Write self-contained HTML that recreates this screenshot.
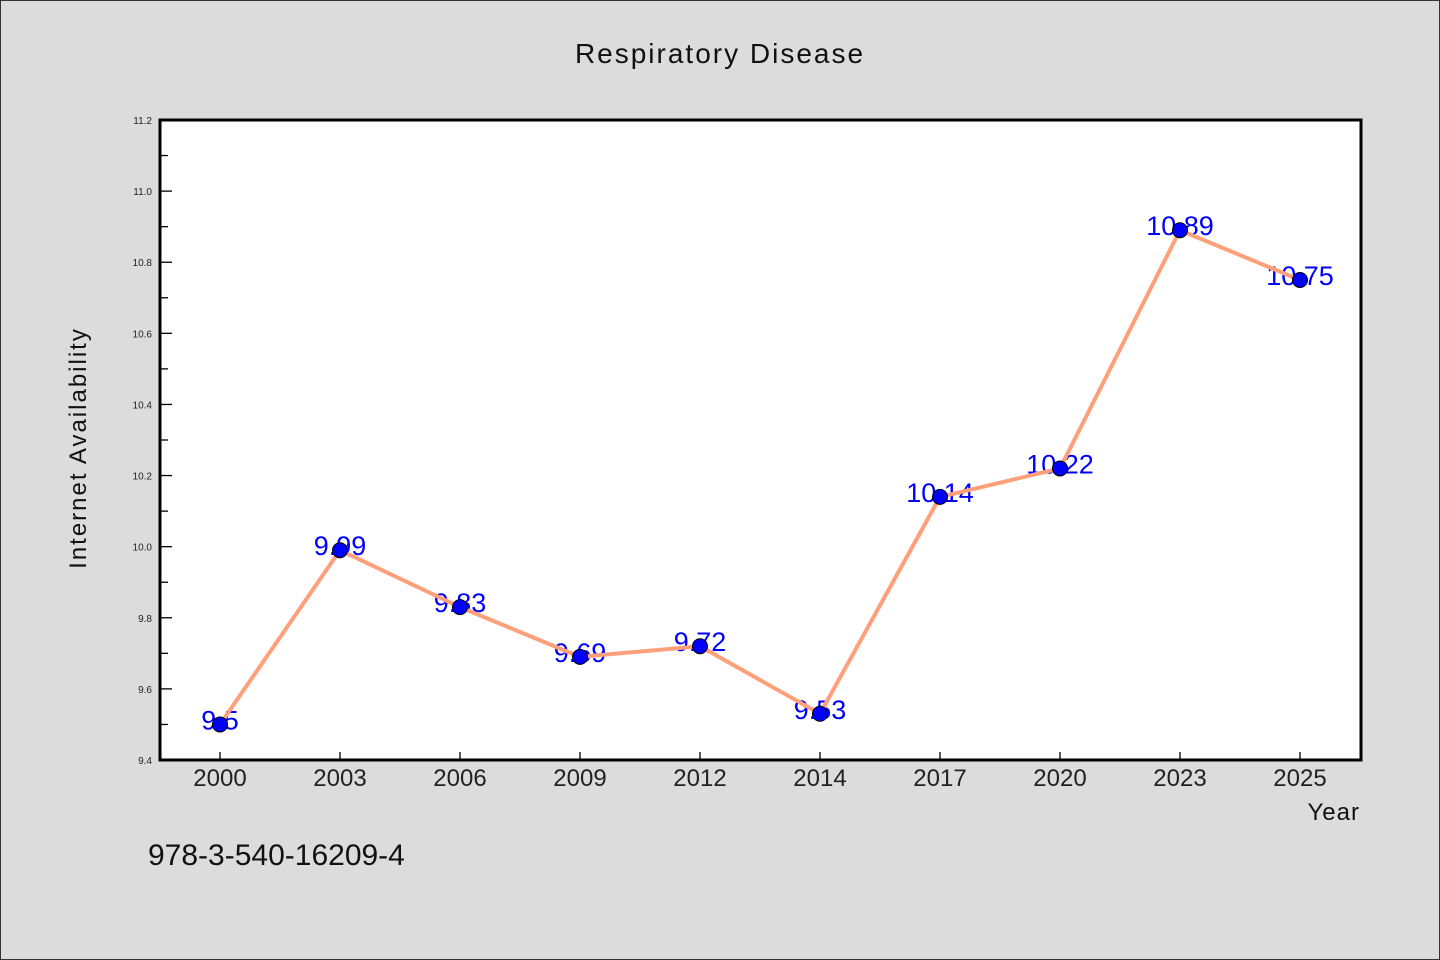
<!DOCTYPE html>
<html><head><meta charset="utf-8"><style>
body{margin:0;background:#dcdcdc;}
svg{display:block;font-family:"WenQuanYi Zen Hei","Liberation Sans",sans-serif;}
</style></head><body>
<svg id="c" width="1440" height="960">
<rect x="0.5" y="0.5" width="1439" height="959" fill="#dcdcdc" stroke="#333"/>
<text x="720" y="63" text-anchor="middle" font-size="28" fill="#111" letter-spacing="2">Respiratory Disease</text>
<rect x="160" y="120" width="1201" height="640" fill="#fff"/>
<g id="ticks"></g>
<g id="labels"></g>
<g id="series"></g>
<rect x="160" y="120" width="1201" height="640" fill="none" stroke="#000" stroke-width="3"/>
<text x="86" y="448" text-anchor="middle" font-size="24" fill="#111" letter-spacing="2" transform="rotate(-90 86 448)">Internet Availability</text>
<text x="1360" y="820" text-anchor="end" font-size="24" fill="#111" letter-spacing="1">Year</text>
<text x="148" y="865" font-size="30" fill="#111">978-3-540-16209-4</text>
</svg>
<script>
const categories=["2000","2003","2006","2009","2012","2014","2017","2020","2023","2025"];
const values=[9.5,9.99,9.83,9.69,9.72,9.53,10.14,10.22,10.89,10.75];
const valueLabels=["9.5","9.99","9.83","9.69","9.72","9.53","10.14","10.22","10.89","10.75"];
const yTicks=["9.4","9.6","9.8","10.0","10.2","10.4","10.6","10.8","11.0","11.2"];
const ns="http://www.w3.org/2000/svg";
const X0=160,W=1200,Y0=760,H=640,ymin=9.4,ymax=11.2;
const x=i=>X0+W/categories.length*(i+0.5);
const y=v=>Y0-(v-ymin)/(ymax-ymin)*H;
function mk(t,a,p){const e=document.createElementNS(ns,t);for(const k in a)e.setAttribute(k,a[k]);p.appendChild(e);return e;}
const tg=document.getElementById('ticks'),lg=document.getElementById('labels'),sg=document.getElementById('series');
yTicks.forEach((t,i)=>{const v=parseFloat(t),yy=y(v);
 const l=mk('line',{x1:X0,x2:X0+12,y1:yy,y2:yy,stroke:'#000','stroke-width':1.3},tg);
 
 const tx=mk('text',{x:X0-8,y:yy+4,'text-anchor':'end','font-size':10,fill:'#222'},tg);tx.textContent=t;
 
 if(i<yTicks.length-1){const ym=y(v+0.1);const m=mk('line',{x1:X0,x2:X0+8,y1:ym,y2:ym,stroke:'#000','stroke-width':1.3},tg);
 }
});
categories.forEach((c,i)=>{const xx=x(i);
 const l=mk('line',{x1:xx,x2:xx,y1:Y0,y2:Y0-8,stroke:'#000','stroke-width':1.3},tg);
 
 const t=mk('text',{x:xx,y:Y0+26,'text-anchor':'middle','font-size':24,fill:'#222'},tg);t.textContent=c;
 
 const vl=mk('text',{x:xx,y:y(values[i])+5,'text-anchor':'middle','font-size':27,fill:'#0000ff'},lg);vl.textContent=valueLabels[i];
 
});
const pl=mk('polyline',{points:values.map((v,i)=>x(i)+','+y(v)).join(' '),fill:'none',stroke:'#ffa07a','stroke-width':4,'stroke-linejoin':'round'},sg);

values.forEach((v,i)=>{const c=mk('circle',{cx:x(i),cy:y(v),r:7.5,fill:'#0000ff',stroke:'#000','stroke-width':1},sg);
 });
</script>
</body></html>
